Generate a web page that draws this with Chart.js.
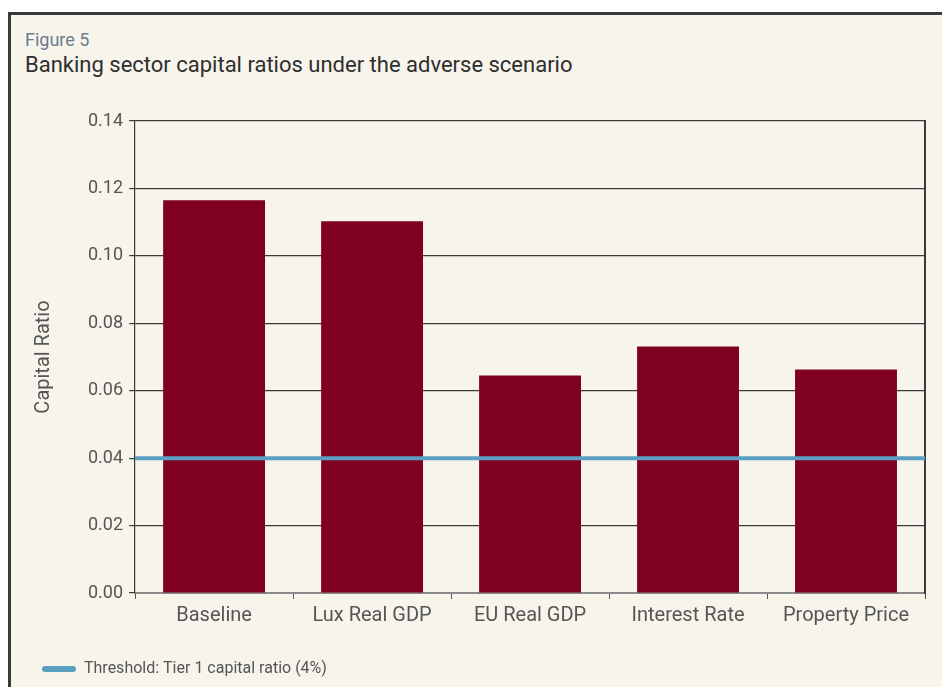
<!DOCTYPE html>
<html>
<head>
<meta charset="utf-8">
<script src="https://cdn.jsdelivr.net/npm/chart.js@4.4.1/dist/chart.umd.min.js"></script>
<style>
  html, body { margin: 0; padding: 0; background: #ffffff; }
  #frame {
    position: absolute; left: 8px; top: 12px; width: 934px; height: 675px;
    background: #f7f4ec; border-top: 3px solid #3a3a3a; border-left: 3px solid #3a3a3a;
    box-sizing: border-box;
  }
  #fig { position: absolute; left: 14px; top: 14px; font: 18px Roboto, sans-serif; color: #6b7d8c; }
  #title { position: absolute; left: 14px; top: 37px; font: 22px Roboto, sans-serif; color: #2e2e2e; }
  #wrap { position: absolute; left: 0; top: 80px; width: 931px; height: 592px; }
</style>
</head>
<body>
<div id="frame">
  <div id="fig">Figure 5</div>
  <div id="title">Banking sector capital ratios under the adverse scenario</div>
  <div id="wrap"><canvas id="graphBars"></canvas></div>
</div>
<script>
const categories = ['Baseline', 'Lux Real GDP', 'EU Real GDP', 'Interest Rate', 'Property Price'];
const capitalRatios = [0.1165, 0.1103, 0.0645, 0.0731, 0.0663];
const thresholdLabel = 'Threshold: Tier 1 capital ratio (4%)';
const thresholdX = [-0.5, 4.5];
const thresholdY = [0.04, 0.04];
const yTicks = [0, 0.02, 0.04, 0.06, 0.08, 0.10, 0.12, 0.14];

const ctxBars = document.getElementById('graphBars');
const textColor = '#555555';
const fontFamily = 'Roboto, sans-serif';

const chart = new Chart(ctxBars, {
  type: 'bar',
  data: {
    labels: categories,
    datasets: [{
      label: 'Capital ratio',
      data: capitalRatios,
      backgroundColor: '#800024',
      categoryPercentage: 1,
      barPercentage: 0.645,
      grouped: false,
      order: 2
    }, {
      type: 'line',
      label: thresholdLabel,
      data: thresholdX.map((x, i) => ({ x: x, y: thresholdY[i] })),
      xAxisID: 'xLine',
      borderColor: '#5a9fc2',
      backgroundColor: '#5a9fc2',
      borderWidth: 4,
      pointRadius: 0,
      fill: false,
      order: 1
    }]
  },
  options: {
    responsive: true,
    maintainAspectRatio: false,
    animation: false,
    layout: { padding: { left: 21, right: 17, top: 26, bottom: 0 } },
    plugins: {
      tooltip: { enabled: false },
      legend: {
        position: 'bottom',
        align: 'start',
        labels: {
          generateLabels: (c) => [{
            text: thresholdLabel,
            fillStyle: '#5a9fc2',
            strokeStyle: '#5a9fc2',
            lineWidth: 0,
            borderRadius: 3,
            fontColor: textColor,
            datasetIndex: 1
          }],
          boxWidth: 34,
          boxHeight: 6,
          padding: 10,
          color: textColor,
          font: { family: fontFamily, size: 16 }
        }
      }
    },
    scales: {
      x: {
        afterFit: (axis) => { axis.height += 18; },
        grid: { display: true, drawOnChartArea: false, drawTicks: true, tickLength: 6, color: '#555555' },
        border: { display: true, color: '#8a8a8a', width: 2 },
        ticks: { color: textColor, font: { family: fontFamily, size: 20 }, padding: 5 }
      },
      xLine: {
        type: 'linear',
        display: false,
        offset: false,
        min: -0.5,
        max: 4.5
      },
      y: {
        min: 0,
        max: 0.14,
        afterBuildTicks: (axis) => { axis.ticks = yTicks.map(v => ({ value: v })); },
        grid: { color: '#3a3a3a', lineWidth: 1.2, tickLength: 6 },
        border: { display: true, color: '#3a3a3a', width: 1.2 },
        ticks: {
          color: textColor,
          padding: 6,
          font: { family: fontFamily, size: 18 },
          callback: (v) => Number(v).toFixed(2)
        },
        title: { display: true, text: 'Capital Ratio', color: textColor, font: { family: fontFamily, size: 20 }, padding: { top: 0, bottom: 26 } }
      },
      yRight: {
        position: 'right',
        min: 0,
        max: 0.14,
        grid: { display: false, drawTicks: false },
        border: { display: true, color: '#3a3a3a', width: 2 },
        ticks: { display: false }
      }
    }
  }
});
</script>
</body>
</html>
